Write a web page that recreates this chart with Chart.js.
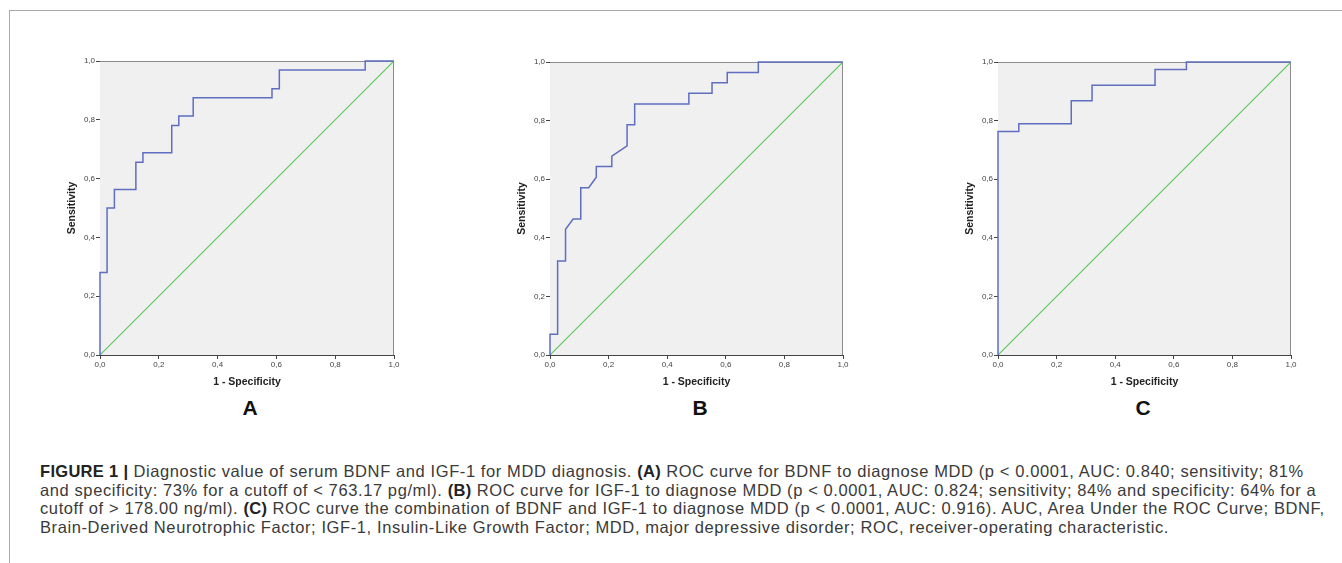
<!DOCTYPE html>
<html>
<head>
<meta charset="utf-8">
<script src="https://cdn.jsdelivr.net/npm/chart.js@4.4.0/dist/chart.umd.min.js"></script>
<style>
  body { margin: 0; background: #fff; width: 1342px; height: 563px; overflow: hidden; position: relative; font-family: "Liberation Sans", Arial, sans-serif; }
  .frame { position: absolute; left: 9px; top: 10px; width: 1340px; height: 560px; border-top: 1px solid #aaa; border-left: 1px solid #aaa; }
  .panel { position: absolute; }
  .letter { position: absolute; top: 396px; width: 40px; margin-left: -20px; text-align: center; font-weight: bold; font-size: 21px; color: #111; }
  .caption { position: absolute; left: 40px; top: 462px; font-size: 16.5px; letter-spacing: 0.6px; line-height: 18.5px; color: #3a3a3a; white-space: nowrap; }
  .caption b { color: #222; letter-spacing: 0.3px; }
</style>
</head>
<body>
<div class="frame"></div>
<canvas id="rocA" class="panel"></canvas>
<canvas id="rocB" class="panel"></canvas>
<canvas id="rocC" class="panel"></canvas>
<div class="letter" style="left:250px">A</div>
<div class="letter" style="left:700px">B</div>
<div class="letter" style="left:1143px">C</div>
<div class="caption">
<b>FIGURE 1 |</b> Diagnostic value of serum BDNF and IGF-1 for MDD diagnosis. <b>(A)</b> ROC curve for BDNF to diagnose MDD (p &lt; 0.0001, AUC: 0.840; sensitivity; 81%<br>
and specificity: 73% for a cutoff of &lt; 763.17 pg/ml). <b>(B)</b> ROC curve for IGF-1 to diagnose MDD (p &lt; 0.0001, AUC: 0.824; sensitivity; 84% and specificity: 64% for a<br>
cutoff of &gt; 178.00 ng/ml). <b>(C)</b> ROC curve the combination of BDNF and IGF-1 to diagnose MDD (p &lt; 0.0001, AUC: 0.916). AUC, Area Under the ROC Curve; BDNF,<br>
Brain-Derived Neurotrophic Factor; IGF-1, Insulin-Like Growth Factor; MDD, major depressive disorder; ROC, receiver-operating characteristic.
</div>
<script>
// ROC curve corner points (1 - specificity, sensitivity)
const bdnfFpr = [0, 0, 0.024, 0.024, 0.049, 0.049, 0.122, 0.122, 0.146, 0.146, 0.244, 0.244, 0.268, 0.268, 0.317, 0.317, 0.585, 0.585, 0.610, 0.610, 0.902, 0.902, 1];
const bdnfTpr = [0, 0.281, 0.281, 0.5, 0.5, 0.563, 0.563, 0.656, 0.656, 0.688, 0.688, 0.781, 0.781, 0.813, 0.813, 0.875, 0.875, 0.906, 0.906, 0.969, 0.969, 1, 1];

const igfFpr = [0, 0, 0.026, 0.026, 0.053, 0.053, 0.079, 0.105, 0.105, 0.132, 0.158, 0.158, 0.211, 0.211, 0.263, 0.263, 0.289, 0.289, 0.474, 0.474, 0.553, 0.553, 0.605, 0.605, 0.711, 0.711, 1];
const igfTpr = [0, 0.071, 0.071, 0.321, 0.321, 0.429, 0.464, 0.464, 0.571, 0.571, 0.607, 0.643, 0.643, 0.679, 0.714, 0.786, 0.786, 0.857, 0.857, 0.893, 0.893, 0.929, 0.929, 0.964, 0.964, 1, 1];

const comboFpr = [0, 0, 0.071, 0.071, 0.25, 0.25, 0.321, 0.321, 0.536, 0.536, 0.643, 0.643, 1];
const comboTpr = [0, 0.763, 0.763, 0.789, 0.789, 0.868, 0.868, 0.921, 0.921, 0.974, 0.974, 1, 1];

// reference line
const refX = [0, 1];
const refY = [0, 1];

const tickLabels = ['0,0', '0,2', '0,4', '0,6', '0,8', '1,0'];

function toPoints(xs, ys) {
    return xs.map((x, i) => ({ x: x, y: ys[i] }));
}

// plot background + top/right frame
const plotBox = {
    id: 'plotBox',
    beforeDatasetsDraw(chart) {
        const a = chart.chartArea;
        const ctx = chart.ctx;
        ctx.save();
        ctx.fillStyle = '#f0f0f0';
        ctx.fillRect(a.left, a.top, a.right - a.left, a.bottom - a.top);
        ctx.strokeStyle = '#8c8c8c';
        ctx.lineWidth = 1;
        ctx.beginPath();
        ctx.moveTo(a.left, a.top + 0.5);
        ctx.lineTo(a.right - 0.5, a.top + 0.5);
        ctx.lineTo(a.right - 0.5, a.bottom);
        ctx.stroke();
        ctx.restore();
    }
};

function createROCChart(id, left, top, right, bottom, xs, ys) {
    const canvas = document.getElementById(id);
    const w = right - left + 66;
    const h = bottom - top + 51;
    canvas.width = w;
    canvas.height = h;
    canvas.style.left = (left - 50) + 'px';
    canvas.style.top = (top - 11) + 'px';

    new Chart(canvas.getContext('2d'), {
        type: 'scatter',
        data: {
            datasets: [{
                data: toPoints(xs, ys),
                showLine: true,
                borderColor: '#5f6ec0',
                borderWidth: 1.5,
                pointRadius: 0,
                clip: false
            },
            {
                data: toPoints(refX, refY),
                showLine: true,
                borderColor: '#5ec85e',
                borderWidth: 1.2,
                pointRadius: 0
            }]
        },
        options: {
            responsive: false,
            animation: false,
            devicePixelRatio: 1,
            layout: { padding: { left: 0, top: 11, right: 16, bottom: 0 } },
            plugins: {
                legend: { display: false },
                tooltip: { enabled: false }
            },
            scales: {
                x: {
                    type: 'linear',
                    min: 0,
                    max: 1,
                    afterFit(scale) { scale.height = 40; },
                    ticks: {
                        stepSize: 0.2,
                        padding: 1,
                        color: '#444',
                        font: { family: 'Liberation Sans', size: 8 },
                        maxRotation: 0,
                        callback: (v, i) => tickLabels[i]
                    },
                    grid: { drawOnChartArea: false, drawTicks: true, tickLength: 4, color: '#444' },
                    border: { display: true, color: '#444' },
                    title: {
                        display: true,
                        text: '1 - Specificity',
                        color: '#222',
                        font: { family: 'Liberation Sans', size: 10.5, weight: 'bold' },
                        padding: { top: 0, bottom: 6.7 }
                    }
                },
                y: {
                    type: 'linear',
                    min: 0,
                    max: 1,
                    afterFit(scale) { scale.width = 50; },
                    ticks: {
                        stepSize: 0.2,
                        padding: 1,
                        color: '#444',
                        font: { family: 'Liberation Sans', size: 8 },
                        callback: (v, i) => tickLabels[i]
                    },
                    grid: { drawOnChartArea: false, drawTicks: true, tickLength: 4, color: '#444' },
                    border: { display: true, color: '#444' },
                    title: {
                        display: true,
                        text: 'Sensitivity',
                        color: '#222',
                        font: { family: 'Liberation Sans', size: 10.5, weight: 'bold' },
                        padding: { top: 15.7, bottom: 0 }
                    }
                }
            }
        },
        plugins: [plotBox]
    });
}

createROCChart('rocA', 100, 61, 394, 355, bdnfFpr, bdnfTpr);
createROCChart('rocB', 550, 62, 843, 355, igfFpr, igfTpr);
createROCChart('rocC', 998, 62, 1291, 355, comboFpr, comboTpr);
</script>
</body>
</html>
